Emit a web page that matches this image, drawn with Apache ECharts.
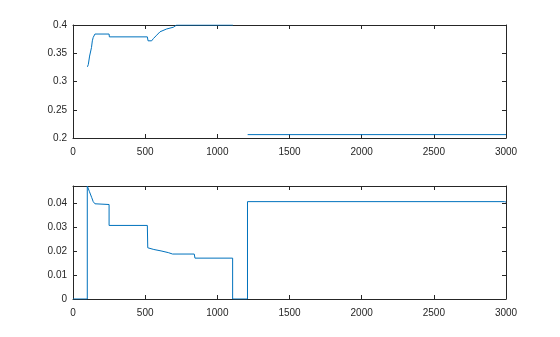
<!DOCTYPE html>
<html>
<head>
<meta charset="utf-8">
<script src="https://cdn.jsdelivr.net/npm/echarts@6/dist/echarts.min.js"></script>
<style>html,body{margin:0;padding:0;background:#fff;}#c{width:560px;height:337px;}</style>
</head>
<body>
<div id="c"></div>
<script>
// Top subplot data (null = gap)
var xTop = [100, 106, 115, 122, 128, 134, 140, 152, 250, 252, 515, 520, 545, 557, 580, 603, 649, 695, 718, 1108, 1108, 1210, 3000];
var yTop = [0.326, 0.330, 0.345, 0.347, 0.360, 0.372, 0.378, 0.384, 0.384, 0.379, 0.379, 0.372, 0.372, 0.376, 0.382, 0.388, 0.393, 0.396, 0.400, 0.400, null, 0.206, 0.206];
// Bottom subplot data
var xBot = [0, 99, 99, 113, 129, 140, 152, 160, 250, 250, 515, 518, 560, 610, 660, 690, 840, 845, 1106, 1106, 1209, 1209, 2990, 3000];
var yBot = [0, 0, 0.047, 0.0448, 0.0423, 0.0405, 0.0396, 0.0393, 0.0393, 0.0306, 0.0306, 0.0213, 0.0206, 0.0200, 0.0193, 0.0187, 0.0187, 0.0170, 0.0170, 0, 0, 0.0405, 0.0405, 0.0403];
// Axis ticks
var xMin = 0, xMax = 3000, xStep = 500;
var topYMin = 0.2, topYMax = 0.4, topYStep = 0.05;
var botYMin = 0, botYMax = 0.047, botYStep = 0.01;

function pairs(xs, ys) { return xs.map(function (x, i) { return [x, ys[i]]; }); }

var axisCol = '#262626';
var font = 'Liberation Sans, Arial, Helvetica, sans-serif';
function xAx(grid, pos, labels) {
  return {
    type: 'value', gridIndex: grid, position: pos, min: xMin, max: xMax, interval: xStep,
    axisLine: { show: true, onZero: false, lineStyle: { color: axisCol, width: 1 } },
    axisTick: { show: true, inside: true, length: 4, lineStyle: { color: axisCol } },
    axisLabel: { show: labels, color: axisCol, fontSize: 10, fontFamily: font, margin: 9,
      formatter: function (v) { return String(v); } },
    splitLine: { show: false }
  };
}
function yAx(grid, pos, labels, mn, mx, st) {
  return {
    type: 'value', gridIndex: grid, position: pos, min: mn, max: mx, interval: st,
    axisLine: { show: true, onZero: false, lineStyle: { color: axisCol, width: 1 } },
    axisTick: { show: true, inside: true, length: 4, lineStyle: { color: axisCol } },
    axisLabel: { show: labels, color: axisCol, fontSize: 10, fontFamily: font, margin: 6, showMaxLabel: (mx !== botYMax),
      formatter: function (v) { return String(Math.round(v * 1000) / 1000); } },
    splitLine: { show: false }
  };
}

var chart = echarts.init(document.getElementById('c'), null, { renderer: 'canvas' });
chart.setOption({
  animation: false,
  backgroundColor: '#fff',
  grid: [
    { left: 73, right: 54, top: 25, height: 113, containLabel: false },
    { left: 73, right: 54, top: 186, height: 113, containLabel: false }
  ],
  xAxis: [xAx(0, 'bottom', true), xAx(0, 'top', false), xAx(1, 'bottom', true), xAx(1, 'top', false)],
  yAxis: [
    yAx(0, 'left', true, topYMin, topYMax, topYStep), yAx(0, 'right', false, topYMin, topYMax, topYStep),
    yAx(1, 'left', true, botYMin, botYMax, botYStep), yAx(1, 'right', false, botYMin, botYMax, botYStep)
  ],
  series: [
    { type: 'line', xAxisIndex: 0, yAxisIndex: 0, data: pairs(xTop, yTop), showSymbol: false, symbol: 'none', connectNulls: false,
      lineStyle: { color: '#0072BD', width: 1 } },
    { type: 'line', xAxisIndex: 2, yAxisIndex: 2, data: pairs(xBot, yBot), showSymbol: false, symbol: 'none',
      lineStyle: { color: '#0072BD', width: 1 } }
  ]
});
</script>
</body>
</html>
